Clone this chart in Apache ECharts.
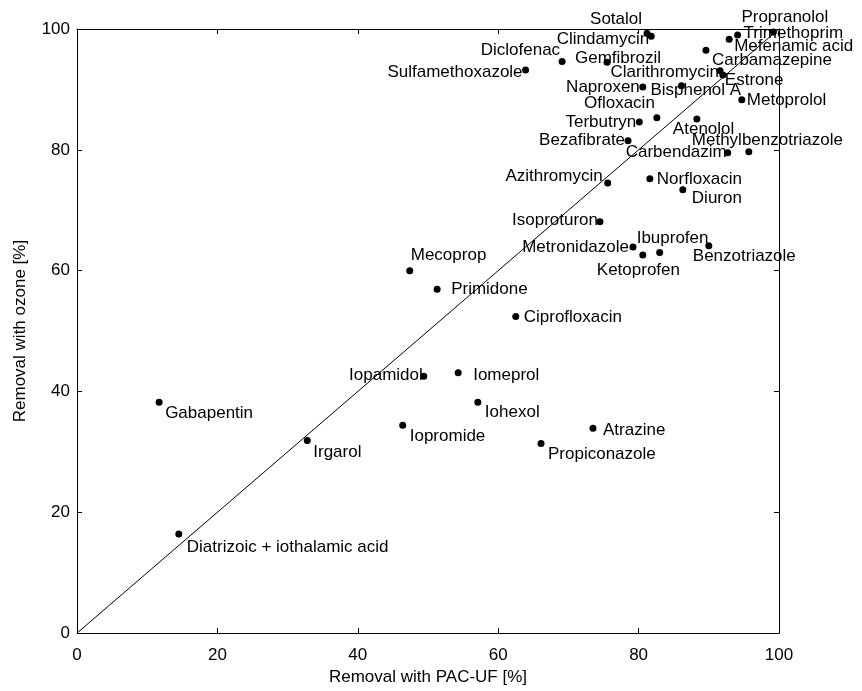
<!DOCTYPE html>
<html><head><meta charset="utf-8">
<script src="https://cdn.jsdelivr.net/npm/echarts@6.0.0/dist/echarts.min.js"></script>
<style>html,body{margin:0;padding:0;background:#fff}#c{width:862px;height:691px}</style>
</head><body><div id="c"></div>
<script>
const compounds = ['Sotalol','Clindamycin','Diclofenac','Sulfamethoxazole','Gemfibrozil','Naproxen','Bisphenol A','Clarithromycin','Estrone','Carbamazepine','Propranolol','Trimethoprim','Mefenamic acid','Metoprolol','Ofloxacin','Terbutryn','Atenolol','Bezafibrate','Methylbenzotriazole','Carbendazim','Azithromycin','Norfloxacin','Diuron','Isoproturon','Metronidazole','Ibuprofen','Ketoprofen','Benzotriazole','Mecoprop','Primidone','Ciprofloxacin','Iopamidol','Iomeprol','Iohexol','Iopromide','Atrazine','Propiconazole','Gabapentin','Irgarol','Diatrizoic + iothalamic acid'];
const pacUF = [81.2,81.8,69.1,63.9,75.5,80.6,86.1,91.6,92.0,89.6,99.2,94.1,92.9,94.7,82.6,80.1,88.3,78.5,95.7,92.7,75.6,81.6,86.3,74.5,79.2,83.0,80.6,90.0,47.4,51.3,62.5,49.4,54.3,57.1,46.4,73.5,66.1,11.7,32.8,14.5];
const ozone = [99.3,98.8,94.6,93.2,94.5,90.4,90.6,93.1,92.4,96.5,99.5,99.0,98.3,88.3,85.3,84.6,85.1,81.5,79.7,79.5,74.5,75.2,73.4,68.1,63.9,63.0,62.6,64.1,60.0,56.9,52.4,42.5,43.1,38.2,34.4,33.9,31.4,38.2,31.9,16.4];
const tickValues = [0,20,40,60,80,100];
const identityLine = [[0,0],[100,100]];
// label layout: [anchor side, dx px, dy px] relative to the marker
const labelPlacement = [['r',-5,-14],['r',-2,3],['r',-2,-11],['r',-3,2],['l',-32,-4],['r',-3,0],['l',-31,5],['r',-1,2],['l',2,5],['l',6,10],['l',-32,-15],['l',6,-2],['l',5,7],['l',5,1],['r',-2,-14],['r',-3,0],['l',-24,10],['r',-3,0],['l',-57,-11],['r',-1,-1],['r',-5,-7],['l',7,0],['l',9,9],['r',-2,-1],['r',-4,0],['l',-23,-14],['l',-46,15],['l',-16,10],['l',1,-15],['l',14,0],['l',8,1],['r',-1,-1],['l',15,3],['l',7,10],['l',7,11],['l',10,2],['l',7,11],['l',6,11],['l',6,12],['l',8,13]];

const FONT = 'Liberation Sans, Arial, sans-serif';
const FS = 17;
const data = compounds.map((n,i)=>{
  const p = labelPlacement[i];
  return {name:n, value:[pacUF[i], ozone[i]], label:{align: p[0]==='r'?'right':'left', offset:[p[1],p[2]]}};
});
const tickMin = tickValues[0], tickMax = tickValues[tickValues.length-1], tickStep = tickValues[1]-tickValues[0];
function axis(pos, showLabel, name){
  const a = {type:'value', min:tickMin, max:tickMax, interval:tickStep, position:pos,
    axisLine:{show:true, onZero:false, lineStyle:{color:'#000', width:1}},
    axisTick:{show:true, inside:true, length:5, lineStyle:{color:'#000', width:1}},
    axisLabel:{show:showLabel, color:'#000', fontSize:FS, fontFamily:FONT, margin:(pos==='bottom'?14:7)},
    splitLine:{show:false}};
  if(name){ a.name=name; a.nameLocation='middle'; a.nameGap=(pos==='bottom'?33:48); a.nameTextStyle={color:'#000', fontSize:FS, fontFamily:FONT}; }
  return a;
}
const chart = echarts.init(document.getElementById('c'), null, {renderer:'canvas'});
chart.setOption({
  animation:false,
  backgroundColor:'#fff',
  grid:{left:77, right:83, top:29, bottom:56, containLabel:false},
  xAxis:[axis('bottom',true,'Removal with PAC-UF [%]'), axis('top',false)],
  yAxis:[axis('left',true,'Removal with ozone [%]'), axis('right',false)],
  series:[
    {type:'line', data:identityLine, symbol:'none', silent:true, lineStyle:{color:'#000', width:1}, z:1},
    {type:'scatter', data:data, symbol:'circle', symbolSize:7, itemStyle:{color:'#000', opacity:1}, z:2,
     label:{show:true, position:'inside', formatter:'{b}', color:'#000', fontSize:FS, fontFamily:FONT, verticalAlign:'middle'}}
  ]
});
</script></body></html>
